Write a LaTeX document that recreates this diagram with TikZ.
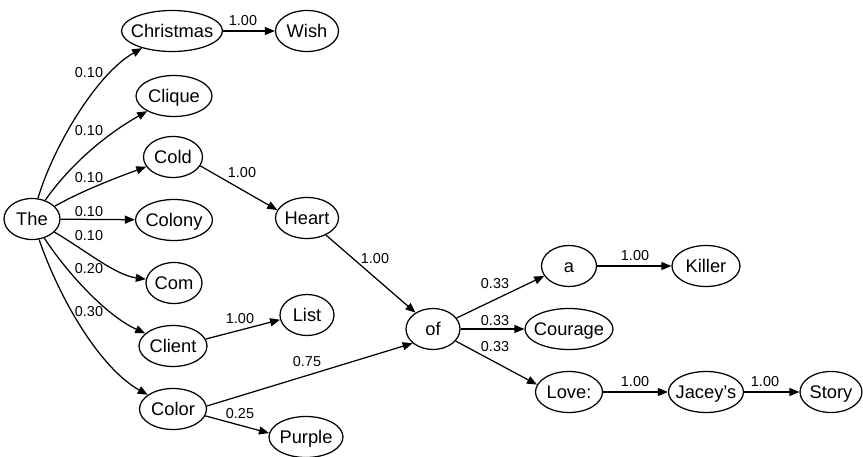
\documentclass[tikz,border=0pt]{standalone}
\usepackage{fontspec}
\setmainfont{Liberation Sans}
\usetikzlibrary{shapes.geometric,arrows.meta}
\newcommand\ntx[1]{\makebox[0pt]{#1}}
\begin{document}
\begin{tikzpicture}[x=1pt,y=-1pt,
  nd/.style={ellipse, draw, line width=1.25pt, inner sep=0pt, minimum height=41pt, minimum width=#1,
    font=\fontsize{18.3}{22}\selectfont, text height=13.1pt, text depth=0pt},
  lbl/.style={inner sep=0pt, font=\fontsize{14.4}{17}\selectfont, text height=10.3pt, text depth=0pt},
  edge/.style={draw, line width=1.25pt, -{Triangle[length=10pt,width=8pt]}}]
\useasboundingbox (0,0) rectangle (863,457);
% nodes
\node[nd=56pt]  (The)       at (32,219)  {\ntx{The}};
\node[nd=101pt] (Christmas) at (172,31)  {\ntx{Christmas}};
\node[nd=63pt]  (Wish)      at (307,31)  {\ntx{Wish}};
\node[nd=76pt]  (Clique)    at (174,96)  {\ntx{Clique}};
\node[nd=59pt]  (Cold)      at (173,157) {\ntx{Cold}};
\node[nd=77pt]  (Colony)    at (174,220) {\ntx{Colony}};
\node[nd=56pt]  (Com)       at (174,283) {\ntx{Com}};
\node[nd=68pt]  (Client)    at (173,346) {\ntx{Client}};
\node[nd=67pt]  (Color)     at (173,409) {\ntx{Color}};
\node[nd=63pt]  (Heart)     at (307,218) {\ntx{Heart}};
\node[nd=54pt]  (List)      at (307,315) {\ntx{List}};
\node[nd=74pt]  (Purple)    at (306,437) {\ntx{Purple}};
\node[nd=54pt]  (of)        at (433,329) {\ntx{of}};
\node[nd=55pt]  (a)         at (569,266) {\ntx{a}};
\node[nd=68pt]  (Killer)    at (706,266) {\ntx{Killer}};
\node[nd=88pt]  (Courage)   at (569,329) {\ntx{Courage}};
\node[nd=67pt]  (Love)      at (569,392) {\ntx{Love:}};
\node[nd=75pt]  (Jacey)     at (706,392) {\ntx{Jacey’s}};
\node[nd=62pt]  (Story)     at (831,392) {\ntx{Story}};
% edges
\path[edge] (The) .. controls (52,150) and (95,75) .. (Christmas);
\path[edge] (The) .. controls (70,165) and (105,135) .. (Clique);
\path[edge] (The) .. controls (80,192) and (110,180) .. (Cold);
\path[edge] (The) -- (Colony);
\path[edge] (The) .. controls (85,250) and (115,275) .. (Com);
\path[edge] (The) .. controls (65,270) and (105,315) .. (Client);
\path[edge] (The) .. controls (60,300) and (100,368) .. (Color);
\path[edge] (Christmas) -- (Wish);
\path[edge] (Cold.-18) -- (Heart.165);
\path[edge] (Heart.-42) -- (of.137);
\path[edge] (Client.12) -- (List.190);
\path[edge] (Color.5) -- (of.215);
\path[edge] (Color.-12) -- (Purple.174);
\path[edge] (of.25) -- (a.202);
\path[edge] (of) -- (Courage);
\path[edge] (of.-28) -- (Love.167);
\path[edge] (a) -- (Killer);
\path[edge] (Love) -- (Jacey);
\path[edge] (Jacey) -- (Story);
% labels
\node[lbl] (l1)  at (243,20)  {1.00};
\node[lbl] (l2)  at (89,72)   {0.10};
\node[lbl] (l3)  at (89,130)  {0.10};
\node[lbl] (l4)  at (89,177)  {0.10};
\node[lbl] (l5)  at (89,211)  {0.10};
\node[lbl] (l6)  at (89,235)  {0.10};
\node[lbl] (l7)  at (89,268)  {0.20};
\node[lbl] (l8)  at (89,311)  {0.30};
\node[lbl] (l9)  at (242,172) {1.00};
\node[lbl] (l10) at (375,258) {1.00};
\node[lbl] (l11) at (240,318) {1.00};
\node[lbl] (l12) at (307,361) {0.75};
\node[lbl] (l13) at (240,413) {0.25};
\node[lbl] (l14) at (495,283) {0.33};
\node[lbl] (l15) at (495,320) {0.33};
\node[lbl] (l16) at (495,346) {0.33};
\node[lbl] (l17) at (635,255) {1.00};
\node[lbl] (l18) at (635,381) {1.00};
\node[lbl] (l19) at (765,381) {1.00};
\end{tikzpicture}
\end{document}
